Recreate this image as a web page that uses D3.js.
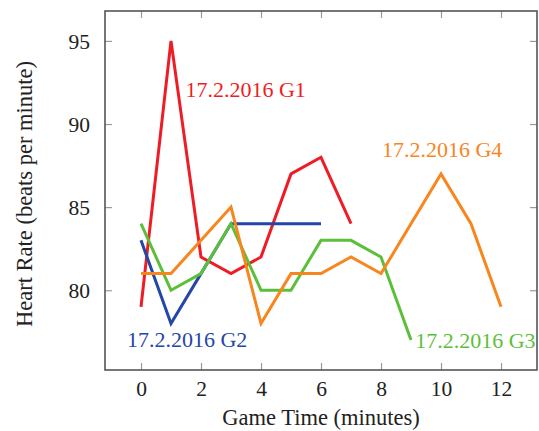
<!DOCTYPE html>
<html>
<head>
<meta charset="utf-8">
<script src="https://cdn.jsdelivr.net/npm/d3@7"></script>
<style>
  html, body { margin: 0; padding: 0; background: #fff; }
  svg { display: block; }
  text { font-family: "Liberation Serif", "DejaVu Serif", serif; }
</style>
</head>
<body>
<svg id="chart" width="539" height="431"></svg>
<script>
// Heart rate per game minute, four games on 17.2.2016
const minutesG1 = [0, 1, 2, 3, 4, 5, 6, 7];
const heartG1   = [79, 95, 82, 81, 82, 87, 88, 84];
const minutesG2 = [0, 1, 2, 3, 4, 5, 6];
const heartG2   = [83, 78, 81, 84, 84, 84, 84];
const minutesG3 = [0, 1, 2, 3, 4, 5, 6, 7, 8, 9];
const heartG3   = [84, 80, 81, 84, 80, 80, 83, 83, 82, 77];
const minutesG4 = [0, 1, 2, 3, 4, 5, 6, 7, 8, 9, 10, 11, 12];
const heartG4   = [81, 81, 83, 85, 78, 81, 81, 82, 81, 84, 87, 84, 79];

const seriesNames = ["17.2.2016 G1", "17.2.2016 G2", "17.2.2016 G3", "17.2.2016 G4"];
const seriesColors = ["#ee1c25", "#2446a8", "#5cbf3b", "#f7861e"];

const xTicks = [0, 2, 4, 6, 8, 10, 12];
const yTicks = [80, 85, 90, 95];
const xTitle = "Game Time (minutes)";
const yTitle = "Heart Rate (beats per minute)";

const series = [
  { name: seriesNames[0], color: seriesColors[0], xs: minutesG1, ys: heartG1 },
  { name: seriesNames[1], color: seriesColors[1], xs: minutesG2, ys: heartG2 },
  { name: seriesNames[2], color: seriesColors[2], xs: minutesG3, ys: heartG3 },
  { name: seriesNames[3], color: seriesColors[3], xs: minutesG4, ys: heartG4 }
];

const svg = d3.select("#chart");
const box = { left: 105, right: 537, top: 11, bottom: 370 };

// data extent padded by 10% on each side
const x = d3.scaleLinear().domain([-1.2, 13.2]).range([box.left, box.right]);
const y = d3.scaleLinear().domain([75.2, 96.8]).range([box.bottom, box.top]);

const tickColor = "#9a9a9a";
const tickLen = 7;

// ticks on all four sides, pointing inward
const axisBottom = d3.axisBottom(x).tickValues(xTicks).tickSize(-tickLen).tickPadding(11).tickFormat(d3.format("d"));
const axisTop = d3.axisTop(x).tickValues(xTicks).tickSize(-tickLen).tickFormat("");
const axisLeft = d3.axisLeft(y).tickValues(yTicks).tickSize(-tickLen).tickPadding(15).tickFormat(d3.format("d"));
const axisRight = d3.axisRight(y).tickValues(yTicks).tickSize(-tickLen).tickFormat("");

function styleAxis(g) {
  g.select(".domain").remove();
  g.selectAll(".tick line").attr("stroke", tickColor).attr("stroke-width", 1.2);
  g.selectAll(".tick text")
    .attr("fill", "#222")
    .style("font-family", "'Liberation Serif', serif")
    .style("font-size", "21.5px");
}

svg.append("g").attr("transform", `translate(0,${box.bottom})`).call(axisBottom).call(styleAxis);
svg.append("g").attr("transform", `translate(0,${box.top})`).call(axisTop).call(styleAxis);
svg.append("g").attr("transform", `translate(${box.left},0)`).call(axisLeft).call(styleAxis)
  .selectAll(".tick text").attr("dy", "0.34em");
svg.append("g").attr("transform", `translate(${box.right},0)`).call(axisRight).call(styleAxis);

// series lines
const line = d3.line().x(d => x(d[0])).y(d => y(d[1]));
series.forEach(s => {
  svg.append("path")
    .datum(s.xs.map((v, i) => [v, s.ys[i]]))
    .attr("fill", "none")
    .attr("stroke", s.color)
    .attr("stroke-width", 3)
    .attr("stroke-linejoin", "miter")
    .attr("d", line);
});

// frame
svg.append("rect")
  .attr("x", box.left).attr("y", box.top)
  .attr("width", box.right - box.left).attr("height", box.bottom - box.top)
  .attr("fill", "none").attr("stroke", "#555").attr("stroke-width", 1.6);

// series labels placed near their lines, in data coordinates
const labelSpots = [
  { s: 0, at: [1.48, 91.6] },
  { s: 1, at: [-0.47, 76.6] },
  { s: 2, at: [9.14, 76.5] },
  { s: 3, at: [8.03, 88.0] }
];
labelSpots.forEach(l => {
  svg.append("text")
    .attr("x", x(l.at[0]))
    .attr("y", y(l.at[1]))
    .attr("text-anchor", "start")
    .attr("fill", series[l.s].color)
    .style("font-size", "22px")
    .text(series[l.s].name);
});

// axis titles
svg.append("text")
  .attr("x", (box.left + box.right) / 2)
  .attr("y", 425)
  .attr("text-anchor", "middle")
  .attr("fill", "#222")
  .style("font-size", "22.5px")
  .text(xTitle);

svg.append("text")
  .attr("transform", `translate(32,194) rotate(-90)`)
  .attr("text-anchor", "middle")
  .attr("fill", "#222")
  .style("font-size", "22.5px")
  .text(yTitle);
</script>
</body>
</html>
